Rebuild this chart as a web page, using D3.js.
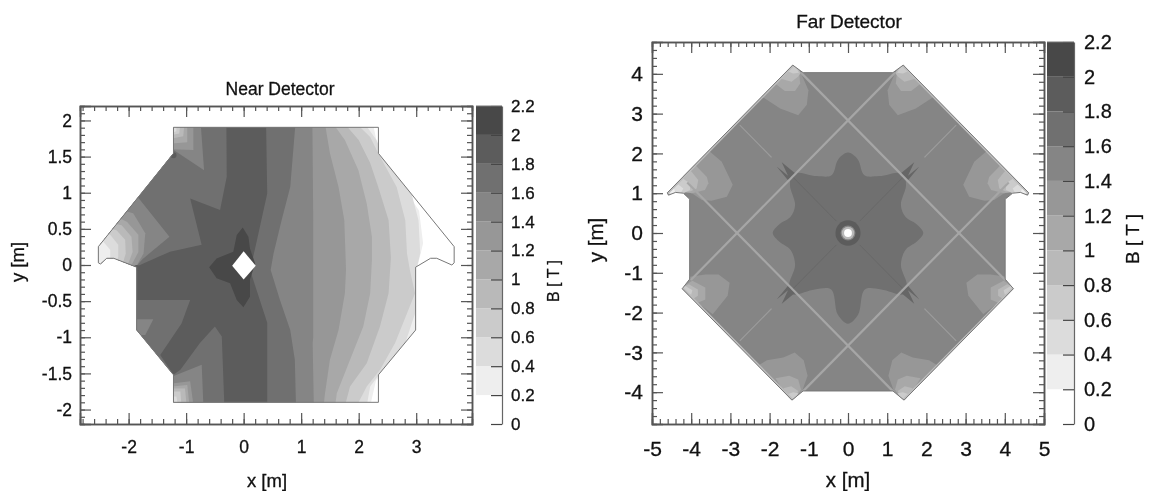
<!DOCTYPE html>
<html>
<head>
<meta charset="utf-8">
<script src="https://cdn.jsdelivr.net/npm/d3@7/dist/d3.min.js"></script>
<style>
  body { margin: 0; background: #fff; }
  svg { display: block; filter: blur(0.45px); }
  text { font-family: "Liberation Sans", Arial, sans-serif; fill: #111; stroke: #111; stroke-width: 0.3px; }
</style>
</head>
<body>
<div id="chart"></div>
<script>
// colour levels, lower edge of each band in tesla
const levels = [0.2, 0.4, 0.6, 0.8, 1, 1.2, 1.4, 1.6, 1.8, 2];
const greys = ['#ffffff', '#eeeeee', '#dcdcdc', '#cbcbcb', '#b9b9b9', '#a8a8a8', '#979797', '#858585', '#707070', '#5c5c5c', '#484848'];
const barTicks = [0, 0.2, 0.4, 0.6, 0.8, 1, 1.2, 1.4, 1.6, 1.8, 2, 2.2];

// near detector, all in metres
const nearOutline = [[-1.22, 1.905], [2.343, 1.905], [2.343, 1.545], [3.66, 0.254], [3.66, 0.03], [3.62, 0], [3.357, 0.093], [3.25, 0.093], [2.99, -0.03], [2.99, -0.9], [2.343, -1.52], [2.343, -1.9], [-1.22, -1.9], [-1.22, -1.52], [-1.86, -0.9], [-1.86, -0.03], [-2.26, 0.093], [-2.38, 0.093], [-2.49, 0.014], [-2.526, 0.03], [-2.526, 0.254], [-1.22, 1.545]];
const nearHole = [[0, 0.19], [0.21, -0.01], [0, -0.2], [-0.2, -0.01]];
const nearDots = [[-1.22, 1.52], [-1.86, -0.04]];
// right hand edge of each band, top to bottom
const nearFront02 = [[2.25, 1.95], [2.34, 1.6], [3.05, 0.75], [3.12, 0.3], [3, -0.1], [3.02, -0.5], [3, -0.9], [2.3, -1.6], [2.2, -1.95]];
const nearFront04 = [[2.11, 1.95], [2.31, 1.73], [2.43, 1.5], [2.89, 1.08], [3.04, 0.62], [3.07, 0.16], [3, -0.07], [3.05, -0.5], [2.98, -0.67], [2.81, -1.08], [2.37, -1.5], [2.2, -1.68], [2.14, -1.95]];
const nearFront06 = [[1.97, 1.95], [2.2, 1.77], [2.34, 1.545], [2.66, 1.08], [2.81, 0.62], [2.84, 0.16], [2.89, -0.07], [2.98, -0.39], [2.865, -0.62], [2.633, -1.08], [2.372, -1.45], [2.14, -1.68], [1.966, -1.95]];
const nearFront08 = [[1.76, 1.95], [2, 1.73], [2.2, 1.41], [2.34, 1.08], [2.52, 0.62], [2.56, 0.1], [2.52, -0.39], [2.37, -0.85], [2.14, -1.36], [1.85, -1.68], [1.76, -1.95]];
const nearFront10 = [[1.56, 1.95], [1.76, 1.73], [1.995, 1.31], [2.14, 0.85], [2.23, 0.39], [2.23, 0.07], [2.2, -0.39], [2.08, -0.85], [1.85, -1.31], [1.62, -1.775], [1.59, -1.95]];
const nearFront12 = [[1.415, 1.95], [1.5, 1.545], [1.65, 1.08], [1.75, 0.62], [1.78, -0.07], [1.76, -0.39], [1.65, -0.9], [1.5, -1.31], [1.415, -1.775], [1.39, -1.95]];
const nearFront14 = [[1.195, 1.95], [1.21, 0.62], [1.21, -1], [1.2, -1.08], [1.22, -1.95]];
const nearFront16 = [[0.9, 1.95], [0.81, 1.08], [0.66, 0.62], [0.52, 0.16], [0.47, -0.07], [0.63, -0.48], [0.81, -0.9], [0.89, -1.31], [0.91, -1.95]];
const nearFronts = [[0.2, nearFront02], [0.4, nearFront04], [0.6, nearFront06], [0.8, nearFront08], [1, nearFront10], [1.2, nearFront12], [1.4, nearFront14], [1.6, nearFront16]];
// patches painted over the fronts, in this order
const nearMain = [[-0.3, 1.95], [-0.294, 1.22], [-0.41, 0.76], [-0.93, 0.92], [-0.73, 0.28], [-1.28, 0.185], [-1.86, -0.02], [-1.86, -0.484], [-0.93, -0.484], [-1.08, -0.81], [-1.45, -1.245], [-1.22, -1.52], [-1.1, -1.45], [-0.76, -1.08], [-0.5, -0.85], [-0.38, -0.99], [-0.335, -1.95], [0.41, -1.95], [0.41, -0.8], [0.112, -0.07], [0.205, 0.25], [0.41, 0.99], [0.39, 1.95]];
const nearCore = [[-0.016, 0.52], [0.083, 0.39], [0.11, 0.23], [0.2, 0.02], [0.11, -0.2], [0.11, -0.44], [-0.004, -0.586], [-0.12, -0.484], [-0.236, -0.254], [-0.47, -0.185], [-0.6, -0.03], [-0.47, 0.09], [-0.18, 0.185], [-0.12, 0.415]];
const nearPatches = [
  [1.8, nearMain],
  [2, nearCore],
  // top left corner
  [1.4, [[-0.746, 1.95], [-0.688, 1.31], [-1.25, 1.61], [-1.25, 1.95]]],
  [1.2, [[-0.874, 1.95], [-0.874, 1.59], [-1.25, 1.6], [-1.25, 1.95]]],
  [1, [[-0.98, 1.95], [-0.98, 1.7], [-1.25, 1.68], [-1.25, 1.95]]],
  [0.8, [[-1.03, 1.95], [-1.05, 1.78], [-1.25, 1.75], [-1.25, 1.95]]],
  [0.6, [[-1.1, 1.95], [-1.12, 1.82], [-1.25, 1.8], [-1.25, 1.95]]],
  [0.4, [[-1.17, 1.95], [-1.17, 1.85], [-1.25, 1.83], [-1.25, 1.95]]],
  // left wing
  [1.4, [[-1.8, 0.9], [-1.29, 0.39], [-1.76, 0.08], [-1.9, -0.05], [-2.7, -0.1], [-2.7, 0.4], [-2, 1.1]]],
  [1.2, [[-1.92, 0.715], [-1.71, 0.44], [-1.74, 0.16], [-1.89, -0.05], [-2.7, -0.1], [-2.3, 0.8]]],
  [1, [[-2.03, 0.6], [-1.83, 0.42], [-1.83, 0.18], [-1.95, 0], [-2.7, -0.1], [-2.3, 0.7]]],
  [0.8, [[-2.12, 0.55], [-1.95, 0.39], [-1.93, 0.18], [-2, 0.03], [-2.7, -0.1], [-2.4, 0.6]]],
  [0.6, [[-2.21, 0.48], [-2.06, 0.35], [-2.05, 0.16], [-2.09, 0.05], [-2.7, -0.1], [-2.5, 0.55]]],
  [0.4, [[-2.32, 0.42], [-2.18, 0.28], [-2.18, 0.12], [-2.2, 0.05], [-2.7, -0.1], [-2.6, 0.5]]],
  [0.2, [[-2.44, 0.32], [-2.32, 0.21], [-2.32, 0.06], [-2.7, -0.1], [-2.7, 0.4]]],
  // lower left
  [1.4, [[-1.9, -0.75], [-1.57, -0.75], [-1.71, -0.97], [-1.9, -0.97]]],
  // bottom left corner
  [1.4, [[-0.729, -1.38], [-0.7, -1.95], [-1.25, -1.95], [-1.25, -1.545]]],
  [1.2, [[-0.93, -1.61], [-0.87, -1.95], [-1.25, -1.95], [-1.25, -1.64]]],
  [1, [[-0.98, -1.66], [-0.94, -1.95], [-1.25, -1.95], [-1.25, -1.68]]],
  [0.8, [[-1.02, -1.71], [-0.99, -1.95], [-1.25, -1.95], [-1.25, -1.71]]],
  [0.6, [[-1.1, -1.75], [-1.08, -1.95], [-1.25, -1.95], [-1.25, -1.75]]],
  [0.4, [[-1.17, -1.82], [-1.14, -1.95], [-1.25, -1.95], [-1.25, -1.82]]]
];

// far detector
const farOutline = [[-1.146, 4.03], [-1.41, 4.22], [-4.61, 1.01], [-4.58, 0.95], [-4.4, 1.02], [-4.2, 1], [-4.04, 0.85], [-4.04, -1.16], [-4.23, -1.4], [-1.43, -4.2], [-1.146, -3.97], [1.146, -3.97], [1.43, -4.2], [4.22, -1.4], [4.01, -1.16], [4.01, 0.85], [4.2, 1], [4.4, 1.02], [4.58, 0.95], [4.61, 1.01], [1.41, 4.22], [1.146, 4.03]];
const farStar = [[0, 2.02], [0.25, 1.85], [0.42, 1.45], [0.8, 1.43], [1.4, 1.5], [1.48, 1.2], [1.35, 0.7], [1.47, 0.4], [1.75, 0.22], [1.92, 0], [1.75, -0.22], [1.47, -0.42], [1.35, -0.8], [1.5, -1.3], [1.42, -1.54], [0.85, -1.42], [0.43, -1.42], [0.26, -2.05], [0, -2.28], [-0.26, -2.05], [-0.43, -1.42], [-0.85, -1.42], [-1.42, -1.54], [-1.5, -1.3], [-1.35, -0.8], [-1.47, -0.42], [-1.75, -0.22], [-1.92, 0], [-1.75, 0.22], [-1.47, 0.4], [-1.35, 0.7], [-1.48, 1.2], [-1.4, 1.5], [-0.8, 1.43], [-0.42, 1.45], [-0.25, 1.85]];
// patches read on the left half, the right half repeats them
const farPatches = [
  [1.2, [[-2.12, 3.38], [-1.73, 3.13], [-1.27, 2.96], [-1.05, 3.22], [-1.01, 3.59], [-1.18, 3.97], [-1.41, 4.3], [-2.3, 3.5]]],
  [1, [[-1.86, 3.76], [-1.61, 3.57], [-1.35, 3.57], [-1.22, 3.76], [-1.24, 3.96], [-1.41, 4.3], [-2, 3.9]]],
  [0.8, [[-1.69, 3.87], [-1.44, 3.8], [-1.27, 3.93], [-1.2, 4.03], [-1.41, 4.3], [-1.8, 4]]],
  [0.6, [[-1.56, 4.07], [-1.4, 4.01], [-1.25, 4.03], [-1.41, 4.3]]],
  [1.2, [[-3.52, 2.04], [-3.22, 1.79], [-2.94, 1.21], [-3.09, 0.91], [-3.48, 0.81], [-3.73, 0.83], [-3.98, 1], [-4.7, 1.1], [-3.7, 2.25]]],
  [1, [[-3.86, 1.67], [-3.6, 1.41], [-3.56, 1.25], [-3.65, 1.08], [-3.98, 1], [-4.7, 1.1], [-4.1, 1.9]]],
  [0.8, [[-3.99, 1.54], [-3.82, 1.33], [-3.86, 1.12], [-4.03, 1.04], [-4.7, 1], [-4.2, 1.7]]],
  [0.6, [[-4.16, 1.33], [-4.03, 1.25], [-4.03, 1.08], [-4.2, 1], [-4.7, 1], [-4.3, 1.45]]],
  [0.4, [[-4.33, 1.22], [-4.2, 1.12], [-4.3, 0.95], [-4.7, 1]]],
  [0.2, [[-4.45, 1.15], [-4.4, 1], [-4.7, 1]]],
  [1.2, [[-3.64, -1.04], [-3.3, -1.04], [-3.02, -1.25], [-3.07, -1.58], [-3.45, -2.04], [-4.3, -1.4], [-4.04, -1.1]]],
  [1, [[-3.97, -1.2], [-3.64, -1.37], [-3.64, -1.67], [-3.83, -1.75], [-4.3, -1.4]]],
  [0.8, [[-4.06, -1.29], [-3.83, -1.42], [-3.83, -1.58], [-3.97, -1.67], [-4.3, -1.4]]],
  [0.6, [[-4.15, -1.33], [-3.97, -1.44], [-4, -1.55], [-4.3, -1.4]]],
  [1.2, [[-2.07, -3.2], [-1.65, -3.13], [-1.36, -3], [-1.13, -3.2], [-1.03, -3.59], [-1.17, -3.97], [-1.43, -4.3], [-2.4, -3.4]]],
  [1, [[-1.85, -3.65], [-1.5, -3.59], [-1.27, -3.68], [-1.2, -3.93], [-1.43, -4.3]]],
  [0.8, [[-1.65, -3.9], [-1.45, -3.85], [-1.27, -3.97], [-1.43, -4.3]]],
  [0.6, [[-1.55, -4.05], [-1.4, -4], [-1.27, -4.03], [-1.43, -4.3]]]
];
const farWedge = [[-1.69, 1.78], [-1.35, 1.5], [-1.44, 1.41], [-1.52, 1.31], [-1.82, 1.67], [-1.53, 1.44]];
const farLightBars = [[[-1.2, 4.03], [4.01, -1.18]], [[1.2, 4.03], [-4.01, -1.18]], [[-4.1, 1.27], [1.2, -4.03]], [[4.1, 1.27], [-1.2, -4.03]]];
const farEdgeBars = [[[-1.41, 4.22], [-4.61, 1.01]], [[1.41, 4.22], [4.61, 1.01]], [[-4.23, -1.4], [-1.43, -4.2]], [[4.23, -1.4], [1.43, -4.2]]];
const farFaintBars = [[[-2.76, 2.71], [-1.95, 1.9]], [[2.76, 2.71], [1.95, 1.9]], [[-2.76, -2.71], [-1.95, -1.9]], [[2.76, -2.71], [1.95, -1.9]]];
const farDarkBars = [[[-1.4, 1.4], [-0.3, 0.3]], [[1.4, 1.4], [0.3, 0.3]], [[-1.4, -1.4], [-0.3, -0.3]], [[1.4, -1.4], [0.3, -0.3]]];
// centre of the far detector, radius in metres and band
const farRings = [[0.32, 1.8], [0.19, 1.4], [0.16, 0.8], [0.1, 0]];

const nearXTicks = [-2, -1, 0, 1, 2, 3];
const nearYTicks = [-2, -1.5, -1, -0.5, 0, 0.5, 1, 1.5, 2];
const farXTicks = [-5, -4, -3, -2, -1, 0, 1, 2, 3, 4, 5];
const farYTicks = [-4, -3, -2, -1, 0, 1, 2, 3, 4];

const width = 1152, height = 491;
const svg = d3.select('#chart').append('svg').attr('width', width).attr('height', height);
const bandColor = d3.scaleThreshold().domain(levels).range(greys);

function panel(o) {
  const x = d3.scaleLinear().domain(o.xDomain).range([o.left, o.right]);
  const y = d3.scaleLinear().domain(o.yDomain).range([o.bottom, o.top]);
  const path = d3.line().x(d => x(d[0])).y(d => y(d[1])).curve(d3.curveLinearClosed);
  const g = svg.append('g');

  g.append('clipPath').attr('id', o.id)
    .append('path').attr('d', path(o.outline));
  const plot = g.append('g').attr('clip-path', `url(#${o.id})`);
  plot.append('path').attr('d', path(o.outline)).attr('fill', bandColor(o.base));
  o.draw(plot, x, y, path);
  g.append('path').attr('d', path(o.outline)).attr('fill', 'none').attr('stroke', '#777').attr('stroke-width', 1);

  // frame, ticks point inwards on all four sides
  const xMinor = d3.range(o.xMinor[0], o.xMinor[1] + 0.001, o.xMinor[2]);
  const yMinor = d3.range(o.yMinor[0], o.yMinor[1] + 0.001, o.yMinor[2]);
  const noLabel = a => a.tickFormat('');
  g.append('g').attr('transform', `translate(0,${o.bottom})`).call(noLabel(d3.axisTop(x).tickValues(xMinor).tickSize(o.minor)));
  g.append('g').attr('transform', `translate(0,${o.top})`).call(noLabel(d3.axisBottom(x).tickValues(xMinor).tickSize(o.minor)));
  g.append('g').attr('transform', `translate(${o.left},0)`).call(noLabel(d3.axisRight(y).tickValues(yMinor).tickSize(o.minor)));
  g.append('g').attr('transform', `translate(${o.right},0)`).call(noLabel(d3.axisLeft(y).tickValues(yMinor).tickSize(o.minor)));
  g.append('g').attr('transform', `translate(0,${o.top})`).call(noLabel(d3.axisBottom(x).tickValues(o.xTicks).tickSize(o.major)));
  g.append('g').attr('transform', `translate(${o.right},0)`).call(noLabel(d3.axisLeft(y).tickValues(o.yTicks).tickSize(o.major)));
  g.append('g').attr('transform', `translate(0,${o.bottom})`)
    .call(d3.axisTop(x).tickValues(o.xTicks).tickSize(o.major).tickFormat(d => d))
    .selectAll('text').attr('y', o.xPad).attr('dy', '0.71em').style('font-size', o.font + 'px');
  g.append('g').attr('transform', `translate(${o.left},0)`)
    .call(d3.axisRight(y).tickValues(o.yTicks).tickSize(o.major).tickFormat(d => d))
    .selectAll('text').attr('x', -o.yPad).attr('text-anchor', 'end').style('font-size', o.font + 'px');
  g.selectAll('.domain').attr('stroke', '#555').attr('stroke-width', 1.5);
  g.selectAll('.tick line').attr('stroke', '#555').attr('stroke-width', 1.2);

  // colour bar
  const b = d3.scaleLinear().domain([0, 2.2]).range([o.bottom, o.top]);
  const edges = [0].concat(levels, [2.2]);
  g.selectAll('.bar').data(d3.pairs(edges)).enter().append('rect')
    .attr('x', o.barLeft).attr('width', o.barRight - o.barLeft)
    .attr('y', d => b(d[1])).attr('height', d => b(d[0]) - b(d[1]))
    .attr('fill', d => bandColor(d[0]));
  const bar = g.append('g').attr('transform', `translate(${o.barRight},0)`)
    .call(d3.axisRight(b).tickValues(barTicks).tickSizeInner(-o.major).tickSizeOuter(0).tickFormat(d => d));
  bar.selectAll('text').style('font-size', o.barFont + 'px').attr('x', o.barPad);
  bar.selectAll('.tick line').attr('stroke', '#444').attr('stroke-width', 1.2);
  bar.select('.domain').attr('stroke', '#666').attr('stroke-width', 1.2);
  g.append('line').attr('x1', o.barLeft).attr('x2', o.barRight).attr('y1', o.top).attr('y2', o.top).attr('stroke', '#777');

  // titles
  g.append('text').attr('x', o.titleX).attr('y', o.titleY).attr('text-anchor', 'middle').style('font-size', o.titleFont + 'px').text(o.title);
  g.append('text').attr('x', o.xLabelX).attr('y', o.xLabelY).attr('text-anchor', 'middle').style('font-size', o.labelFont + 'px').text('x [m]');
  g.append('text').attr('transform', `translate(${o.yLabelX},${o.yLabelY}) rotate(-90)`).attr('text-anchor', 'middle').style('font-size', o.labelFont + 'px').text('y [m]');
  g.append('text').attr('transform', `translate(${o.bLabelX},${o.bLabelY}) rotate(-90)`).attr('text-anchor', 'middle').style('font-size', o.bFont + 'px').text('B [ T ]');
}

panel({
  id: 'nearClip', title: 'Near Detector',
  xDomain: [-2.845, 3.97], yDomain: [-2.2, 2.2],
  left: 80, right: 472, top: 106, bottom: 424,
  outline: nearOutline, base: 0,
  xTicks: nearXTicks, yTicks: nearYTicks,
  xMinor: [-2.8, 3.8, 0.2], yMinor: [-2.1, 2.1, 0.1],
  major: 11, minor: 5, font: 17.5, xPad: 17, yPad: 8,
  barLeft: 476, barRight: 502, barPad: 9, barFont: 17,
  titleX: 280, titleY: 95, titleFont: 17.5,
  xLabelX: 267, xLabelY: 487, labelFont: 18.5,
  yLabelX: 24, yLabelY: 262, bLabelX: 559, bLabelY: 281, bFont: 16,
  draw(plot, x, y, path) {
    nearFronts.forEach(([band, front]) => {
      const poly = [[-3, 2.2]].concat(front, [[-3, -2.2]]);
      plot.append('path').attr('d', path(poly)).attr('fill', bandColor(band));
    });
    nearPatches.forEach(([band, poly]) => {
      plot.append('path').attr('d', path(poly)).attr('fill', bandColor(band));
    });
    plot.selectAll('.dot').data(nearDots).enter().append('circle')
      .attr('cx', d => x(d[0])).attr('cy', d => y(d[1])).attr('r', 3).attr('fill', bandColor(1.9));
    plot.append('path').attr('d', path(nearHole)).attr('fill', '#fff');
  }
});

panel({
  id: 'farClip', title: 'Far Detector',
  xDomain: [-5, 5], yDomain: [-4.8, 4.8],
  left: 652, right: 1044, top: 42, bottom: 424,
  outline: farOutline, base: 1.4,
  xTicks: farXTicks, yTicks: farYTicks,
  xMinor: [-4.8, 4.8, 0.2], yMinor: [-4.6, 4.6, 0.2],
  major: 11, minor: 5, font: 21, xPad: 17, yPad: 9,
  barLeft: 1047, barRight: 1074, barPad: 10, barFont: 20,
  titleX: 849, titleY: 28, titleFont: 19,
  xLabelX: 848, xLabelY: 487, labelFont: 20.5,
  yLabelX: 603, yLabelY: 240, bLabelX: 1139, bLabelY: 239, bFont: 19,
  draw(plot, x, y, path) {
    const smooth = d3.line().x(d => x(d[0])).y(d => y(d[1])).curve(d3.curveCatmullRomClosed.alpha(0.5));
    plot.append('path').attr('d', smooth(farStar)).attr('fill', bandColor(1.6));
    // same patches on both sides
    [1, -1].forEach(side => {
      farPatches.forEach(([band, poly]) => {
        const pts = poly.map(d => [d[0] * side, d[1]]);
        plot.append('path').attr('d', path(pts)).attr('fill', bandColor(band));
      });
    });
    const bars = (list, stroke, w) => plot.append('g').selectAll('line').data(list).enter().append('line')
      .attr('x1', d => x(d[0][0])).attr('y1', d => y(d[0][1]))
      .attr('x2', d => x(d[1][0])).attr('y2', d => y(d[1][1]))
      .attr('stroke', stroke).attr('stroke-width', w);
    bars(farEdgeBars, '#bdbdbd', 3.5);
    bars(farFaintBars, '#9c9c9c', 1.2);
    bars(farDarkBars, '#666', 0.8);
    [[1, 1], [-1, 1], [1, -1], [-1, -1]].forEach(([sx, sy]) => {
      const pts = farWedge.map(d => [d[0] * sx, d[1] * sy]);
      plot.append('path').attr('d', path(pts)).attr('fill', '#666');
    });
    bars(farLightBars, '#a6a6a6', 2.2);
    plot.selectAll('.ring').data(farRings).enter().append('ellipse')
      .attr('cx', x(0)).attr('cy', y(0))
      .attr('rx', d => x(d[0]) - x(0)).attr('ry', d => y(0) - y(d[0]))
      .attr('fill', d => bandColor(d[1]));
  }
});
</script>
</body>
</html>
